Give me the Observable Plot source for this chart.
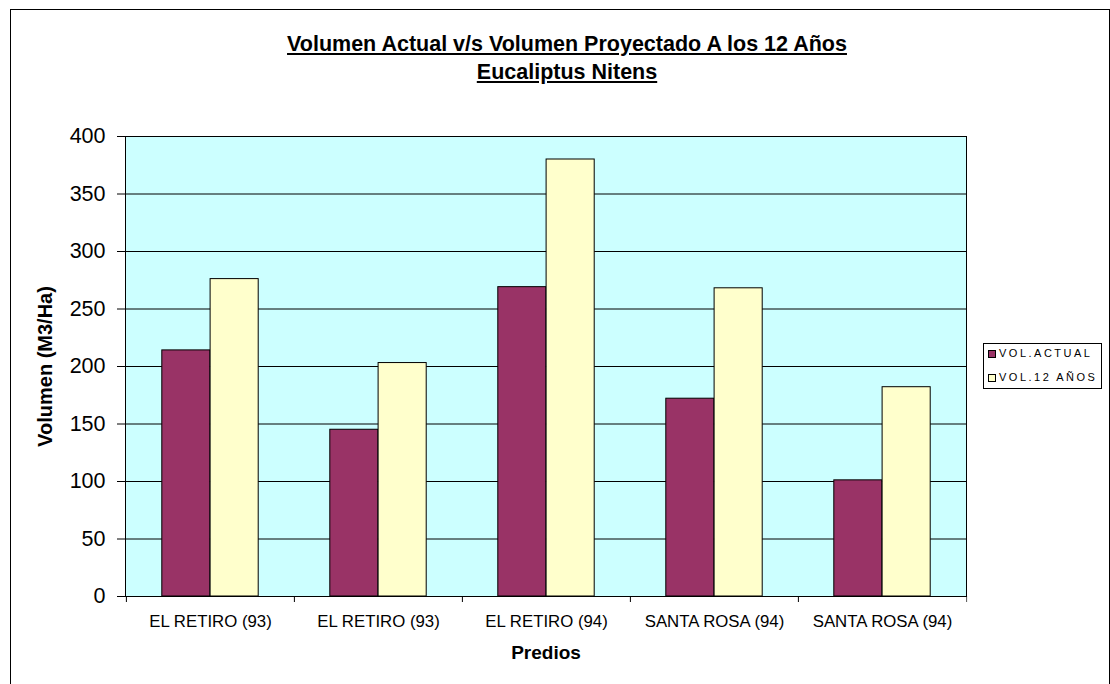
<!DOCTYPE html>
<html>
<head>
<meta charset="utf-8">
<script src="https://cdn.jsdelivr.net/npm/d3@7"></script>
<script src="https://cdn.jsdelivr.net/npm/@observablehq/plot@0.6"></script>
<style>
  html, body { margin: 0; padding: 0; background: #fff; overflow: hidden; }
  #wrap { position: relative; width: 1110px; height: 684px; font-family: "Liberation Sans", Arial, sans-serif; }
  #border { position: absolute; left: 10px; top: 9px; width: 1100px; height: 700px; box-sizing: border-box; border: 1px solid #000; }
  #chart { position: absolute; left: 0; top: 0; }
  #title { position: absolute; left: 0; top: 30px; width: 1134px; text-align: center; font-weight: bold; font-size: 21.5px; line-height: 28px; color: #000; }
  #title span { text-decoration: underline; }
  #legend { position: absolute; left: 983px; top: 343px; width: 119px; height: 46px; box-sizing: border-box; border: 1px solid #000; background: #fff; font-size: 11px; letter-spacing: 2.5px; color: #000; }
  .row { position: absolute; left: 4px; height: 12px; line-height: 12px; white-space: nowrap; }
  .sw { display: inline-block; width: 8px; height: 8px; border: 1px solid #000; vertical-align: -1px; margin-right: 3px; box-sizing: border-box; }
</style>
</head>
<body>
<div id="wrap">
  <div id="border"></div>
  <div id="chart"></div>
  <div id="title"><span>Volumen Actual v/s Volumen Proyectado A los 12 Años</span><br><span>Eucaliptus Nitens</span></div>
  <div id="legend"></div>
</div>
<script>
// ---- data ----
const predios = ["EL RETIRO (93)", "EL RETIRO (93)", "EL RETIRO (94)", "SANTA ROSA (94)", "SANTA ROSA (94)"];
const volActual = [214, 145, 269, 172, 101];
const vol12 = [276, 203, 380, 268, 182];
const seriesNames = ["VOL.ACTUAL", "VOL.12 AÑOS"];
const seriesColors = ["#993366", "#FFFFCC"];
const yTicks = [0, 50, 100, 150, 200, 250, 300, 350, 400];

const keys = predios.map((_, i) => String(i));
const rowsActual = keys.map((k, i) => ({key: k, value: volActual[i]}));
const rows12 = keys.map((k, i) => ({key: k, value: vol12[i]}));

const W = 1110, H = 684;
const mL = 125, mR = 144, mT = 136, mB = 88;
const bw = (W - mL - mR) / keys.length;
const barW = 48.3;
const outer = (bw - 2 * barW) / 2;

const chart = Plot.plot({
  width: W,
  height: H,
  marginLeft: mL,
  marginRight: mR,
  marginTop: mT,
  marginBottom: mB,
  style: {fontFamily: "'Liberation Sans', Arial, sans-serif", color: "#000", background: "transparent"},
  x: {type: "band", domain: keys, padding: 0, axis: null},
  y: {domain: [0, 400], axis: null},
  marks: [
    Plot.frame({fill: "#CCFFFF", stroke: null}),
    Plot.ruleY(yTicks, {stroke: "#000", strokeWidth: 1}),
    Plot.barY(rowsActual, {x: "key", y: "value", fill: seriesColors[0], stroke: "#000", strokeWidth: 1,
      insetLeft: outer, insetRight: bw - outer - barW}),
    Plot.barY(rows12, {x: "key", y: "value", fill: seriesColors[1], stroke: "#000", strokeWidth: 1,
      insetLeft: outer + barW, insetRight: outer}),
    Plot.axisY({ticks: yTicks, tickSize: 8, tickPadding: 12, fontSize: 21.5, label: null, stroke: "#000"}),
    Plot.axisX({tickSize: 0, tickPadding: 19, fontSize: 16.8, tickFormat: (k) => predios[+k], label: null}),
    Plot.ruleX(keys, {x: (d) => d, dx: -bw / 2, stroke: "#000", insetTop: H - mT - mB, insetBottom: -6}),
    Plot.ruleX(keys.slice(-1), {x: (d) => d, dx: bw / 2, stroke: "#555", insetTop: H - mT - mB, insetBottom: -6}),
    Plot.frame({stroke: "#000", fill: null}),
    Plot.text(["Volumen (M3/Ha)"], {text: (d) => d, frameAnchor: "left", dx: -80, rotate: -90, textAnchor: "middle", fontWeight: "bold", fontSize: 20}),
    Plot.text(["Predios"], {text: (d) => d, frameAnchor: "bottom", dy: 62, textAnchor: "middle", fontWeight: "bold", fontSize: 19})
  ]
});
document.getElementById("chart").appendChild(chart);

// legend built from series arrays
const legend = document.getElementById("legend");
seriesNames.forEach((name, i) => {
  const row = document.createElement("div");
  row.className = "row";
  row.style.top = (3 + i * 24) + "px";
  const sw = document.createElement("span");
  sw.className = "sw";
  sw.style.background = seriesColors[i];
  row.appendChild(sw);
  row.appendChild(document.createTextNode(name));
  legend.appendChild(row);
});
</script>
</body>
</html>
